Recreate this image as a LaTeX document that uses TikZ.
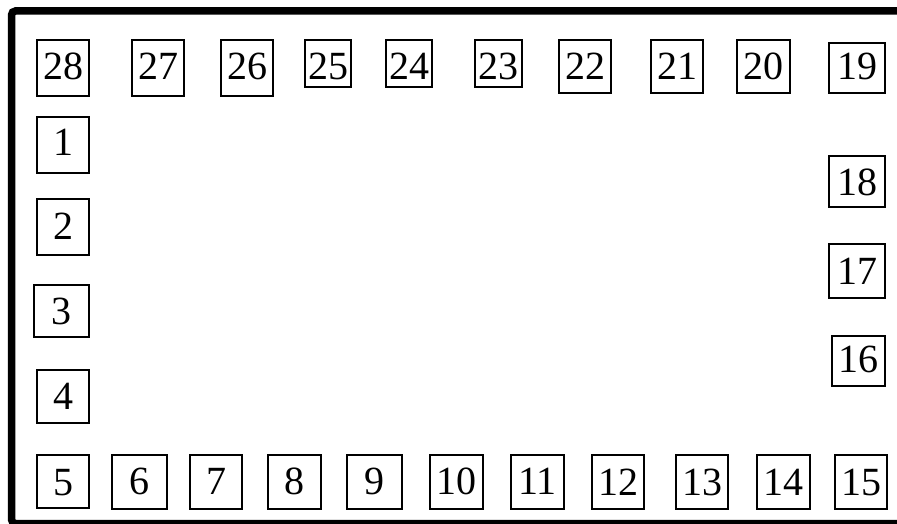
\documentclass[tikz,border=0pt]{standalone}
\usepackage{fontspec}
\setmainfont{Liberation Serif}
\begin{document}
\begin{tikzpicture}[x=1pt,y=-1pt,
  pin/.style={draw, line width=2.2pt, inner sep=0pt, anchor=base, font=\fontsize{40}{48}\selectfont, align=center}]
\useasboundingbox (0,0) rectangle (897,524);
\clip (0,0) rectangle (897,524);
\draw[line width=7.5pt, rounded corners=4pt] (11.5,11) rectangle (910,523.5);
\foreach \n/\xa/\xb/\ya/\yb/\bl in {
  28/36/90/39/97/80, 27/131/185/39/97/80, 26/220/274/39/97/80, 25/304/352/39/88/80,
  24/385/433/39/88/80, 23/474/523/39/88/80, 22/558/612/39/94/80, 21/650/704/39/94/80,
  20/736/791/39/94/80, 19/828/886/42/94/80,
  1/36/90/116/174/156, 2/36/90/198/256/239, 3/33/90/284/338/324, 4/36/90/369/424/409,
  5/36/90/454/509/495, 6/111/168/454/510/494, 7/189/243/454/510/494, 8/267/322/454/510/494,
  9/346/403/454/510/494, 10/429/484/454/510/494, 11/510/565/454/510/494, 12/591/645/454/510/495,
  13/675/729/454/510/495, 14/756/811/454/510/495, 15/834/888/454/510/495,
  16/831/886/335/387/372, 17/828/886/243/299/284, 18/828/886/155/208/195} {
  \pgfmathsetmacro\cx{(\xa+\xb)/2}
  \pgfmathsetmacro\w{\xb-\xa-2.2}
  \pgfmathsetmacro\th{\bl-\ya-1.1}
  \pgfmathsetmacro\td{\yb-\bl-1.1}
  \node[pin, minimum width=\w pt, text height=\th pt, text depth=\td pt] (p\n) at (\cx,\bl) {\n};
}
\end{tikzpicture}
\end{document}
